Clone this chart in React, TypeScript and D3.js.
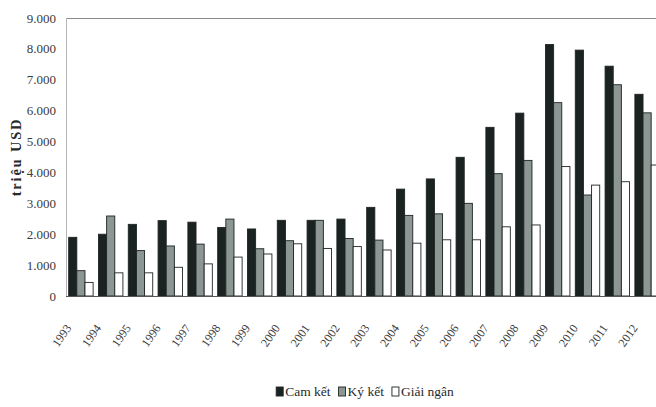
import React, { useEffect, useRef } from "react";
import * as d3 from "d3";

const years = ["1993","1994","1995","1996","1997","1998","1999","2000","2001","2002","2003","2004","2005","2006","2007","2008","2009","2010","2011","2012"];
const camKet = [1900, 2000, 2320, 2440, 2390, 2220, 2170, 2450, 2450, 2490, 2870, 3460, 3790, 4490, 5460, 5920, 8140, 7960, 7440, 6530];
const kyKet = [820, 2590, 1470, 1620, 1680, 2490, 1530, 1790, 2450, 1860, 1810, 2610, 2660, 3000, 3960, 4390, 6260, 3270, 6840, 5930];
const giaiNgan = [440, 750, 750, 930, 1040, 1260, 1360, 1690, 1540, 1600, 1490, 1710, 1820, 1820, 2240, 2300, 4190, 3590, 3700, 4240];
const seriesNames = ["Cam kết", "Ký kết", "Giải ngân"];
const seriesColors = ["#1b2222", "#8c9692", "#ffffff"];
const yTicks = [0, 1000, 2000, 3000, 4000, 5000, 6000, 7000, 8000, 9000];
const yTitle = "triệu USD";

export default function App() {
  const ref = useRef<SVGSVGElement | null>(null);
  useEffect(() => {
    document.body.style.margin = "0";
    const svg = d3.select(ref.current);
    svg.selectAll("*").remove();
    const W = 656, H = 407;
    const left = 66, right = 662, top = 18, bottom = 296;
    const font = "'Liberation Serif', 'Times New Roman', serif";

    const x = d3.scaleBand<string>().domain(years).range([left, right]).paddingInner(0.18).paddingOuter(0.09);
    const xs = d3.scaleBand<string>().domain(seriesNames).range([0, x.bandwidth()]).padding(0);
    const y = d3.scaleLinear().domain([0, 9000]).range([bottom, top]);
    const series = [camKet, kyKet, giaiNgan];
    const fmt = d3.formatLocale({ decimal: ",", thousands: ".", grouping: [3], currency: ["", ""] }).format(",");

    svg.append("rect").attr("width", W).attr("height", H).attr("fill", "#fff");

    // plot frame
    svg.append("line").attr("x1", left).attr("x2", right).attr("y1", top + 0.5).attr("y2", top + 0.5).attr("stroke", "#8a8a8a").attr("stroke-width", 1);
    svg.append("line").attr("x1", left + 0.5).attr("x2", left + 0.5).attr("y1", top).attr("y2", bottom).attr("stroke", "#b5b5b5").attr("stroke-width", 1);

    // bars
    series.forEach((vals, si) => {
      svg.append("g").selectAll("rect").data(vals).join("rect")
        .attr("x", (_d, i) => (x(years[i]) as number) + (xs(seriesNames[si]) as number))
        .attr("y", (d) => y(d))
        .attr("width", xs.bandwidth())
        .attr("height", (d) => y(0) - y(d))
        .attr("fill", seriesColors[si])
        .attr("stroke", "#1e2424")
        .attr("stroke-width", 0.9);
    });

    // baseline
    svg.append("line").attr("x1", left).attr("x2", right).attr("y1", bottom + 0.5).attr("y2", bottom + 0.5).attr("stroke", "#555").attr("stroke-width", 1);

    // y ticks
    svg.append("g").selectAll("text").data(yTicks).join("text")
      .attr("x", 56).attr("y", (d) => y(d)).attr("dy", "0.35em")
      .attr("text-anchor", "end").attr("font-family", font).attr("font-size", 13)
      .attr("fill", "#3a3a3a").text((d) => fmt(d));

    // x labels
    svg.append("g").selectAll("text").data(years).join("text")
      .attr("transform", (d) => `translate(${(x(d) as number) + x.bandwidth() / 2 - 9},${328}) rotate(-55)`)
      .attr("text-anchor", "end").attr("font-family", font).attr("font-size", 12)
      .attr("fill", "#3a3a3a").text((d) => d);

    // y title
    svg.append("text")
      .attr("transform", `translate(21,${157}) rotate(-90)`)
      .attr("text-anchor", "middle").attr("font-family", font).attr("font-size", 14.5)
      .attr("font-weight", "bold").attr("letter-spacing", 1.8).attr("fill", "#2a2a2a").text(yTitle);

    // legend
    const lg = svg.append("g");
    let cx = 0;
    seriesNames.forEach((name, i) => {
      lg.append("rect").attr("x", cx).attr("y", -9).attr("width", 7).attr("height", 9)
        .attr("fill", seriesColors[i]).attr("stroke", "#1e2424").attr("stroke-width", 0.9);
      const t = lg.append("text").attr("x", cx + 9).attr("y", 0).attr("font-family", font)
        .attr("font-size", 13.5).attr("fill", "#2a2a2a").text(name);
      const w = (t.node() as SVGTextElement).getComputedTextLength();
      cx += 9 + w + 8;
    });
    const total = cx - 8;
    lg.attr("transform", `translate(${365 - total / 2},${396})`);
  }, []);
  return <svg ref={ref} width={656} height={407} style={{ display: "block" }} />;
}
